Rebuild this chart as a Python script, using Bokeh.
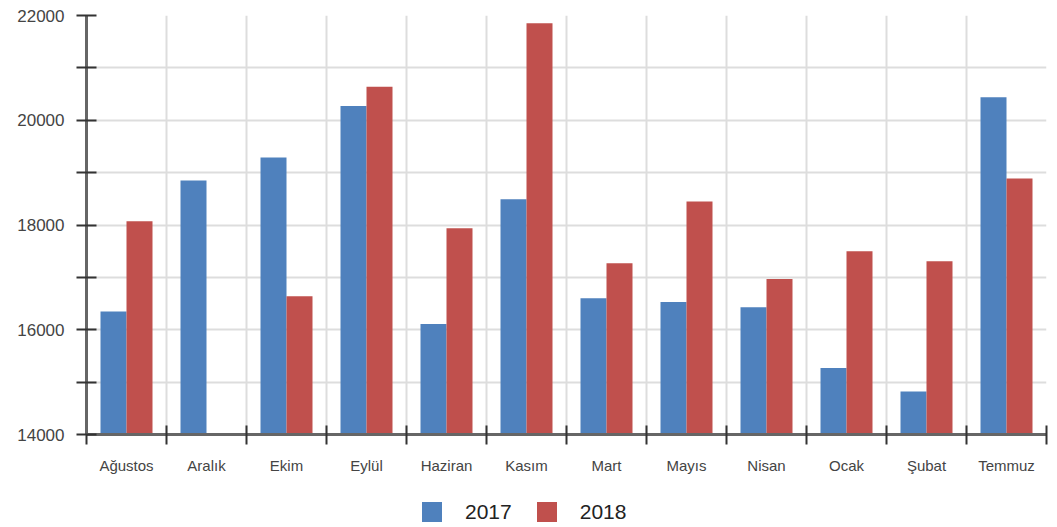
from bokeh.plotting import figure
from bokeh.layouts import column
from bokeh.models import (Range1d, FixedTicker, CustomJSTickFormatter, Legend, LegendItem,
                          ColumnDataSource)
from bokeh.embed import file_html
from bokeh.resources import INLINE
import numpy as np

months = ["Ağustos", "Aralık", "Ekim", "Eylül", "Haziran", "Kasım",
          "Mart", "Mayıs", "Nisan", "Ocak", "Şubat", "Temmuz"]
v2017 = [16350, 18850, 19290, 20270, 16110, 18490, 16600, 16530, 16430, 15270, 14820, 20440]
v2018 = [18070, None, 16640, 20640, 17940, 21850, 17270, 18450, 16970, 17500, 17310, 18890]
series_names = ["2017", "2018"]
colors = ["#4f81bd", "#c0504d"]
y_labels_ticks = [14000, 16000, 18000, 20000, 22000]
y_minor_ticks = [15000, 17000, 19000, 21000]

n = len(months)
idx = np.arange(n)
bar_w = 0.325

p = figure(width=1057, height=476, output_backend="svg", toolbar_location=None,
           x_range=Range1d(0, n), y_range=Range1d(14000, 22000),
           min_border_left=86, min_border_right=11, min_border_top=15, min_border_bottom=40)
p.outline_line_color = None
p.background_fill_color = "white"

src1 = ColumnDataSource(dict(x=idx + 0.5 - bar_w / 2, top=v2017))
src2 = ColumnDataSource(dict(x=idx + 0.5 + bar_w / 2,
                             top=[np.nan if v is None else v for v in v2018]))
p.vbar(x="x", top="top", bottom=14000, width=bar_w, source=src1,
       fill_color=colors[0], line_color=None)
p.vbar(x="x", top="top", bottom=14000, width=bar_w, source=src2,
       fill_color=colors[1], line_color=None)

# x axis: labels at centers, ticks at boundaries
boundaries = list(range(n + 1))
p.xaxis.ticker = FixedTicker(ticks=[i + 0.5 for i in range(n)], minor_ticks=boundaries)
p.xaxis.formatter = CustomJSTickFormatter(args=dict(cats=months),
                                          code="return cats[Math.floor(tick)];")
p.xaxis.major_tick_line_color = None
p.xaxis.minor_tick_in = 9
p.xaxis.minor_tick_out = 10
p.xaxis.minor_tick_line_color = "#333333"
p.xaxis.minor_tick_line_width = 2
p.xaxis.axis_line_color = "#666666"
p.xaxis.axis_line_width = 3
p.xaxis.major_label_text_font = "Liberation Sans"
p.xaxis.major_label_text_font_size = "15px"
p.xaxis.major_label_text_color = "#444444"
p.xaxis.major_label_standoff = 12

# y axis
p.yaxis.ticker = FixedTicker(ticks=y_labels_ticks, minor_ticks=y_minor_ticks)
p.yaxis.major_tick_in = 10
p.yaxis.major_tick_out = 10
p.yaxis.minor_tick_in = 10
p.yaxis.minor_tick_out = 10
p.yaxis.major_tick_line_color = "#333333"
p.yaxis.minor_tick_line_color = "#333333"
p.yaxis.major_tick_line_width = 2
p.yaxis.minor_tick_line_width = 2
p.yaxis.axis_line_color = "#666666"
p.yaxis.axis_line_width = 3
p.yaxis.major_label_text_font = "Liberation Sans"
p.yaxis.major_label_text_font_size = "17px"
p.yaxis.major_label_text_color = "#444444"
p.yaxis.major_label_standoff = 12

# grids
p.xgrid.ticker = FixedTicker(ticks=boundaries)
p.ygrid.ticker = FixedTicker(ticks=sorted(y_labels_ticks + y_minor_ticks))
for g in (p.xgrid, p.ygrid):
    g.grid_line_color = "#dddddd"
    g.grid_line_width = 2
    g.grid_line_alpha = 1

# legend strip below the chart (same series; the strip's view window shows only the legend)
lg = figure(width=1057, height=51, output_backend="svg", toolbar_location=None,
            x_range=Range1d(1000, 1001), y_range=Range1d(1000000, 1000001),
            x_axis_type=None, y_axis_type=None, min_border=0)
lg.outline_line_color = None
lg.xgrid.visible = False
lg.ygrid.visible = False
l1 = lg.vbar(x="x", top="top", bottom=14000, width=bar_w, source=src1,
             fill_color=colors[0], line_color=None)
l2 = lg.vbar(x="x", top="top", bottom=14000, width=bar_w, source=src2,
             fill_color=colors[1], line_color=None)
legend = Legend(items=[LegendItem(label=series_names[0], renderers=[l1]),
                       LegendItem(label=series_names[1], renderers=[l2])],
                orientation="horizontal", location=(333, 3),
                glyph_width=25, glyph_height=25, label_standoff=21, spacing=22,
                padding=0, margin=0, border_line_color=None, background_fill_alpha=0,
                label_text_font="Liberation Sans", label_text_font_size="21px",
                label_text_color="#222222", label_height=20)
lg.add_layout(legend, "center")

layout = column(p, lg, spacing=0)
open("out.html", "w").write(file_html(layout, INLINE))
